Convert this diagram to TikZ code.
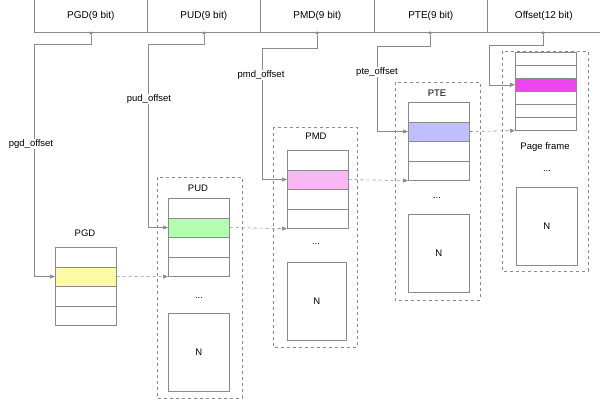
\documentclass[tikz,border=0pt]{standalone}
\usepackage{fontspec}
\setmainfont{Liberation Sans}
\usetikzlibrary{arrows.meta}
\definecolor{ln}{HTML}{8A8A8A}
\definecolor{mag}{HTML}{EE44EE}
\definecolor{pnk}{HTML}{F7B8F3}
\begin{document}
\begin{tikzpicture}[x=1pt,y=-1pt,font=\fontsize{9.5}{11}\selectfont,
  cell/.style={draw=ln,line width=0.6pt,minimum width=61pt,inner sep=0pt,anchor=north west},
  grp/.style={draw=ln,dashed,line width=0.8pt},
  conn/.style={draw=ln,line width=0.6pt,-{Triangle[length=5pt,width=4pt]}},
  dconn/.style={conn,dashed},
  dot/.style={circle,fill=ln,inner sep=0pt,minimum size=3.5pt},
  lbl/.style={inner sep=1pt,fill=white}]
\useasboundingbox (0,0) rectangle (600,402);
\fill[white] (0,0) rectangle (600,402);
% top bar
\foreach \n/\a/\b/\t in {b1/34/147/PGD(9 bit),b2/147/260/PUD(9 bit),b3/260/374/PMD(9 bit),b4/374/487/PTE(9 bit),b5/487/600/Offset(12 bit)}{
  \node[draw=ln,line width=0.6pt,minimum width={\b-\a},minimum height=33pt,inner sep=0pt,anchor=north west,font=\fontsize{10}{11}\selectfont] (\n) at (\a,-1) {\t};}
\foreach \n/\x in {d1/91,d2/204,d3/317,d4/430,d5/543}{\node[dot] (\n) at (\x,33) {};}
% groups
\draw[grp] (157,177) rectangle (242,398);
\draw[grp] (273,127) rectangle (357,347);
\draw[grp] (395,82) rectangle (480,300);
\draw[grp] (502,51) rectangle (588,271);
% tables
\newcommand\tabl[7]{\foreach \i in {1,...,#5}{
  \ifnum\i=#6 \node[cell,minimum height=#4pt,fill=#7] (#1\i) at (#2,{#3+(\i-1)*#4}) {};
  \else \node[cell,minimum height=#4pt] (#1\i) at (#2,{#3+(\i-1)*#4}) {};\fi}}
\tabl{g}{55}{247}{19.5}{4}{2}{yellow!35}
\tabl{u}{168}{198}{19.5}{4}{2}{green!30}
\tabl{m}{287}{150}{19.5}{4}{2}{pnk}
\tabl{t}{408}{102}{19.5}{4}{2}{blue!25}
\tabl{f}{515}{52}{13}{6}{3}{mag}
% titles
\node (tg) at (85,233) {PGD};
\node (tu) at (198,188) {PUD};
\node (tm) at (316,136) {PMD};
\node (tt) at (437,93) {PTE};
\node (tf) at (545,147) {Page frame};
\node (eu) at (199,298) {...};
\node (em) at (316,244) {...};
\node (et) at (437,198) {...};
\node (ef) at (547,171) {...};
\node[draw=ln,line width=0.6pt,minimum width=61pt,minimum height=78pt,anchor=north west] (nu) at (168,313) {N};
\node[draw=ln,line width=0.6pt,minimum width=59pt,minimum height=78pt,anchor=north west] (nm) at (287,262) {N};
\node[draw=ln,line width=0.6pt,minimum width=61pt,minimum height=78pt,anchor=north west] (nt) at (408,214) {N};
\node[draw=ln,line width=0.6pt,minimum width=61pt,minimum height=78pt,anchor=north west] (nf) at (516,187) {N};
% offset connectors
\draw[conn] (d1) |- (34,44) |- (g2.west);
\draw[conn] (d2) |- (148,44) |- (u2.west);
\draw[conn] (d3) |- (262,48) |- (m2.west);
\draw[conn] (d4) |- (377,46) |- (t2.west);
\draw[conn] (d5) |- (489,45) |- (f3.west);
\node[lbl] (lg) at (31,144) {pgd\_offset};
\node[lbl] (lu) at (149,99) {pud\_offset};
\node[lbl] (lm) at (261,75) {pmd\_offset};
\node[lbl] (lt) at (377,72) {pte\_offset};
% dashed links
\draw[dconn] (g2.east) -- (u4.south west);
\draw[dconn] (u2.east) -- (m4.south west);
\draw[dconn] (m2.east) -- (t4.south west);
\draw[dconn] (t2.east) -- (f6.south west);
\end{tikzpicture}
\end{document}
